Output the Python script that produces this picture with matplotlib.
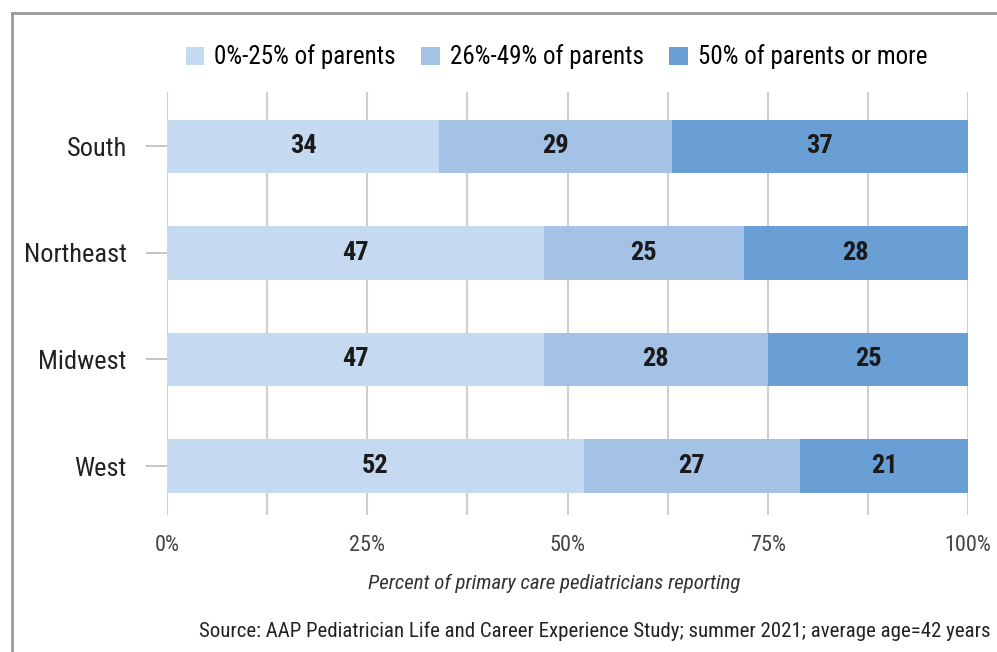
import matplotlib.pyplot as plt
import numpy as np
from matplotlib.lines import Line2D

plt.rcParams['font.family'] = ['Roboto Condensed', 'DejaVu Sans']
plt.rcParams['font.stretch'] = 'condensed'

regions = ["South", "Northeast", "Midwest", "West"]
low = [34, 47, 47, 52]
mid = [29, 25, 28, 27]
high = [37, 28, 25, 21]
series_names = ["0%-25% of parents", "26%-49% of parents", "50% of parents or more"]
colors = ["#c5d9f0", "#a3c2e6", "#6a9fd6"]

fig = plt.figure(figsize=(9.97, 6.52), dpi=100)
ax = fig.add_axes([0.1675, 0.21, 0.8035, 0.649])

ypos = np.arange(len(regions))[::-1]
left = np.zeros(len(regions))
for vals, name, c in zip([low, mid, high], series_names, colors):
    vals = np.array(vals, dtype=float)
    ax.barh(ypos, vals, left=left, height=0.5, color=c, label=name, zorder=3)
    for y, l, v in zip(ypos, left, vals):
        ax.text(l + v / 2, y, str(int(v)), ha='center', va='center',
                fontsize=19, fontweight='bold', color='#1a1a1a', zorder=4)
    left += vals

ax.set_xlim(0, 100)
ax.set_ylim(-0.46, 3.51)
ax.set_xticks(np.arange(0, 101, 12.5))
ax.set_xticklabels(["0%", "", "25%", "", "50%", "", "75%", "", "100%"])
ax.set_yticks(ypos)
ax.set_yticklabels(regions, fontsize=19)
ax.grid(axis='x', color='#cfcfcf', linewidth=1.5, zorder=0)
for s in ax.spines.values():
    s.set_visible(False)
ax.tick_params(axis='x', length=0, pad=14, labelsize=16, labelcolor='#444444')
ax.tick_params(axis='y', length=15, width=1.2, color='#bbbbbb', pad=14, labelcolor='#222222')
ax.set_xlabel("Percent of primary care pediatricians reporting", fontsize=15,
              style='italic', color='#333333', labelpad=13)
ax.xaxis.label.set_x(0.483)

ax.legend(loc='lower center', bbox_to_anchor=(0.486, 1.0), ncol=3, frameon=False,
          fontsize=18, handlelength=0.75, handleheight=0.75, handletextpad=0.4,
          columnspacing=1.0)

fig.text(0.993, 0.032, "Source: AAP Pediatrician Life and Career Experience Study; summer 2021; average age=42 years",
         ha='right', va='center', fontsize=15, color='#222222')

# frame around the panel
fig.add_artist(Line2D([0.012, 0.012], [0, 0.98], transform=fig.transFigure, color='#999999', linewidth=2))
fig.add_artist(Line2D([0.012, 1.0], [0.98, 0.98], transform=fig.transFigure, color='#999999', linewidth=2))

fig.savefig("out.png", dpi=100)
